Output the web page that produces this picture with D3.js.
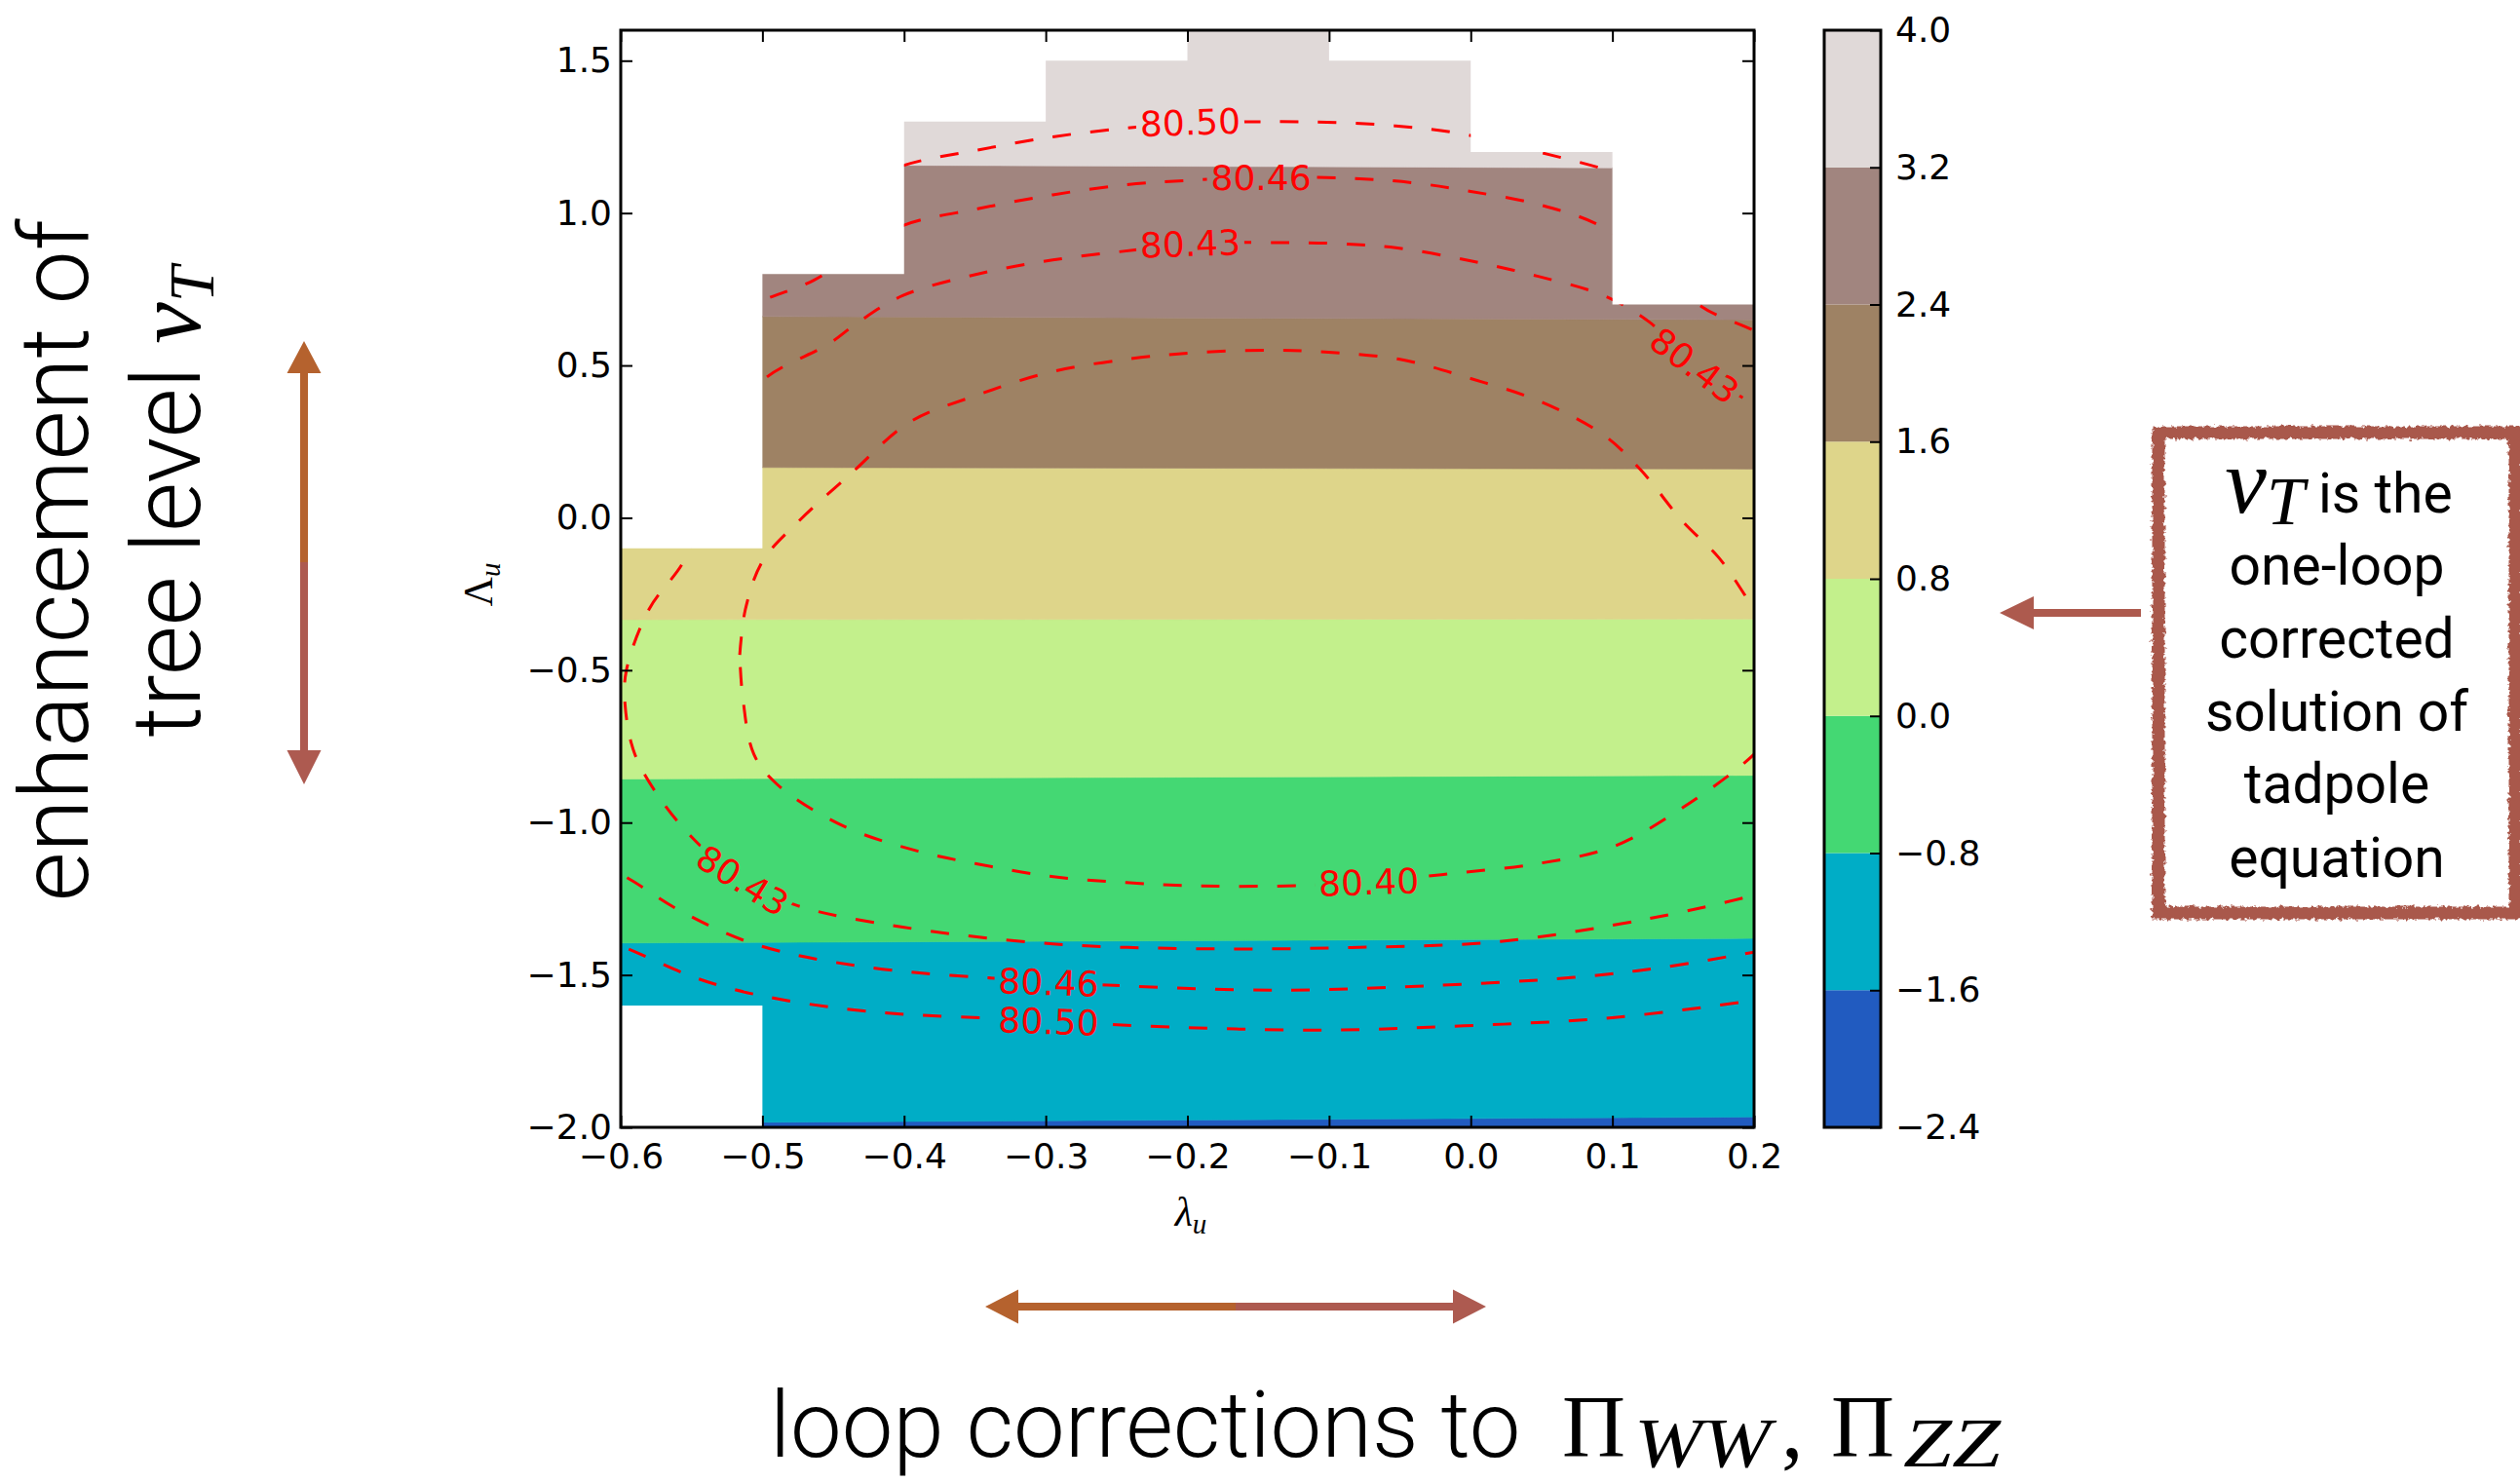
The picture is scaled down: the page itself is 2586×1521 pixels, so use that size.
<!DOCTYPE html>
<html>
<head>
<meta charset="utf-8">
<script src="https://cdn.jsdelivr.net/npm/d3@7"></script>
<style>
  body { margin: 0; background: #fff; }
  .note { font-family: Roboto, 'Liberation Sans', sans-serif; font-weight: 300; }
  .boxnote { font-family: Roboto, 'Liberation Sans', sans-serif; font-weight: 400; }
  .math { font-family: 'Liberation Serif', 'DejaVu Serif', serif; font-weight: 400; }
</style>
</head>
<body>
<svg id="chart" width="2586" height="1521"></svg>
<script>
'use strict';

// filled levels of the colour bar and their colours (bottom to top)
const levels = [-2.4, -1.6, -0.8, 0.0, 0.8, 1.6, 2.4, 3.2, 4.0];
const levelColors = ['#215bc0', '#00adc6', '#44d873', '#c3f08c', '#ded58a', '#9e8264', '#a1857f', '#e0d9d8'];

// Λ_u where each inner level (-1.6 ... 3.2) crosses λ_u = -0.6 and λ_u = 0.2
const boundaryAtLeft = [-1.986, -1.395, -0.857, -0.334, 0.166, 0.662, 1.160];
const boundaryAtRight = [-1.966, -1.380, -0.845, -0.332, 0.160, 0.650, 1.147];

// scanned grid: for every λ_u column, the Λ_u range that has a solution
const columnEdges = [-0.6, -0.5, -0.4, -0.3, -0.2, -0.1, 0.0, 0.1, 0.2];
const columnBottom = [-1.6, -2.0, -2.0, -2.0, -2.0, -2.0, -2.0, -2.0];
const columnTop = [-0.1, 0.8, 1.3, 1.5, 1.6, 1.5, 1.2, 0.7];

const xTicks = [-0.6, -0.5, -0.4, -0.3, -0.2, -0.1, 0.0, 0.1, 0.2];
const yTicks = [-2.0, -1.5, -1.0, -0.5, 0.0, 0.5, 1.0, 1.5];

const contour8040 = [[-0.516, -0.45], [-0.512, -0.30], [-0.500, -0.143], [-0.475, -0.014], [-0.438, 0.143],
  [-0.396, 0.314], [-0.350, 0.400], [-0.296, 0.479], [-0.240, 0.522], [-0.191, 0.543], [-0.138, 0.550],
  [-0.106, 0.545], [-0.050, 0.520], [0.000, 0.457], [0.050, 0.380], [0.094, 0.271], [0.120, 0.157],
  [0.150, -0.014], [0.175, -0.130], [0.194, -0.257], [0.213, -0.40], [0.220, -0.55], [0.213, -0.70],
  [0.200, -0.776], [0.150, -0.950], [0.100, -1.080], [0.047, -1.135], [-0.005, -1.163], [-0.040, -1.180],
  [-0.111, -1.205], [-0.190, -1.208], [-0.243, -1.197], [-0.296, -1.177], [-0.349, -1.135], [-0.390, -1.094],
  [-0.443, -1.011], [-0.490, -0.873], [-0.506, -0.776], [-0.514, -0.583], [-0.516, -0.45]];

const contour8043 = [[0.215, 0.33], [0.200, 0.371], [0.158, 0.500], [0.126, 0.643], [0.094, 0.729],
  [0.047, 0.793], [0.000, 0.843], [-0.053, 0.886], [-0.095, 0.900], [-0.137, 0.903], [-0.198, 0.900],
  [-0.237, 0.879], [-0.295, 0.846], [-0.348, 0.800], [-0.401, 0.729], [-0.432, 0.643], [-0.453, 0.571],
  [-0.500, 0.450], [-0.525, 0.28], [-0.542, 0.08], [-0.554, -0.129], [-0.580, -0.300], [-0.596, -0.500],
  [-0.597, -0.610], [-0.590, -0.776], [-0.569, -0.942], [-0.543, -1.080], [-0.514, -1.190], [-0.475, -1.273],
  [-0.401, -1.343], [-0.295, -1.398], [-0.190, -1.414], [-0.084, -1.410], [0.021, -1.390], [0.126, -1.315],
  [0.200, -1.239], [0.215, -1.22]];

const contour8046Upper = [[-0.62, 0.50], [-0.55, 0.62], [-0.500, 0.714], [-0.464, 0.779], [-0.430, 0.88],
  [-0.400, 0.960], [-0.348, 1.014], [-0.295, 1.060], [-0.243, 1.093], [-0.200, 1.107], [-0.148, 1.118],
  [-0.085, 1.114], [-0.042, 1.100], [0.000, 1.071], [0.047, 1.029], [0.089, 0.964], [0.130, 0.84],
  [0.163, 0.693], [0.200, 0.614], [0.22, 0.56]];

const contour8046Lower = [[-0.62, -1.13], [-0.597, -1.177], [-0.559, -1.287], [-0.506, -1.398], [-0.427, -1.474],
  [-0.298, -1.522], [-0.243, -1.536], [-0.137, -1.550], [-0.032, -1.536], [0.073, -1.508], [0.137, -1.474],
  [0.200, -1.425], [0.22, -1.41]];

const contour8050Upper = [[-0.45, 1.06], [-0.400, 1.157], [-0.348, 1.207], [-0.295, 1.250], [-0.243, 1.279],
  [-0.198, 1.295], [-0.137, 1.300], [-0.095, 1.297], [-0.053, 1.286], [-0.011, 1.264], [0.042, 1.207],
  [0.100, 1.136], [0.15, 1.05]];

const contour8050Lower = [[-0.62, -1.38], [-0.600, -1.405], [-0.548, -1.508], [-0.506, -1.563], [-0.427, -1.619],
  [-0.298, -1.650], [-0.243, -1.665], [-0.111, -1.681], [-0.005, -1.667], [0.100, -1.640], [0.200, -1.584],
  [0.22, -1.57]];

const contourLines = [contour8040, contour8043, contour8046Upper, contour8046Lower, contour8050Upper, contour8050Lower];

const labelTexts = ['80.50', '80.46', '80.43', '80.43', '80.43', '80.40', '80.46', '80.50'];
const labelX = [-0.198, -0.148, -0.198, 0.158, -0.514, -0.072, -0.298, -0.298];
const labelY = [1.298, 1.118, 0.900, 0.500, -1.190, -1.195, -1.524, -1.652];
const labelAngle = [-2, 0, -2, 37, 32, -2, 2, 2];

const svg = d3.select('#chart');

const x = d3.scaleLinear().domain([-0.6, 0.2]).range([637, 1800]);
const y = d3.scaleLinear().domain([-2.0, 1.6]).range([1157, 31]);
const cbarY = d3.scaleLinear().domain([-2.4, 4.0]).range([1157, 31]);
const cbarLeft = 1872;
const cbarRight = 1930;
const tickFont = 'DejaVu Sans';
const tickFontSize = 36;

const toPath = d3.line().x(d => x(d[0])).y(d => y(d[1]));
const toCurve = d3.line().x(d => x(d[0])).y(d => y(d[1])).curve(d3.curveCatmullRom.alpha(0.5));

const defs = svg.append('defs');

// stepped outline of the scanned region
const maskOutline = [];
columnBottom.forEach((b, i) => {
  maskOutline.push([columnEdges[i], b], [columnEdges[i + 1], b]);
});
for (let i = columnTop.length - 1; i >= 0; i--) {
  maskOutline.push([columnEdges[i + 1], columnTop[i]], [columnEdges[i], columnTop[i]]);
}
defs.append('clipPath').attr('id', 'dataClip')
  .append('path').attr('d', toPath(maskOutline) + 'Z');

defs.append('clipPath').attr('id', 'plotClip')
  .append('rect')
  .attr('x', x(-0.6)).attr('y', y(1.6))
  .attr('width', x(0.2) - x(-0.6)).attr('height', y(-2.0) - y(1.6));

const rough = defs.append('filter').attr('id', 'rough')
  .attr('x', '-5%').attr('y', '-5%').attr('width', '110%').attr('height', '110%');
rough.append('feTurbulence').attr('type', 'fractalNoise').attr('baseFrequency', '0.25 0.25')
  .attr('numOctaves', 2).attr('seed', 7).attr('result', 'noise');
rough.append('feDisplacementMap').attr('in', 'SourceGraphic').attr('in2', 'noise')
  .attr('scale', 7).attr('xChannelSelector', 'R').attr('yChannelSelector', 'G');

// ---- filled bands ----
const bands = levelColors.map((color, i) => {
  const lowL = i === 0 ? -2.2 : boundaryAtLeft[i - 1];
  const lowR = i === 0 ? -2.2 : boundaryAtRight[i - 1];
  const upL = i === levelColors.length - 1 ? 1.8 : boundaryAtLeft[i];
  const upR = i === levelColors.length - 1 ? 1.8 : boundaryAtRight[i];
  return {color, points: [[-0.6, lowL], [0.2, lowR], [0.2, upR], [-0.6, upL]]};
});

svg.append('g')
  .attr('clip-path', 'url(#dataClip)')
  .selectAll('path')
  .data(bands)
  .join('path')
  .attr('d', d => toPath(d.points) + 'Z')
  .attr('fill', d => d.color)
  .attr('stroke', d => d.color)
  .attr('stroke-width', 0.6);

// ---- contour labels (measured first so the lines can be broken) ----
const labelLayer = svg.append('g').attr('clip-path', 'url(#plotClip)');
const labels = labelLayer.selectAll('text')
  .data(labelTexts)
  .join('text')
  .attr('transform', (d, i) => `translate(${x(labelX[i])},${y(labelY[i])}) rotate(${labelAngle[i]})`)
  .attr('text-anchor', 'middle')
  .attr('dy', '0.36em')
  .attr('font-family', tickFont)
  .attr('font-size', tickFontSize)
  .attr('fill', '#ff0000')
  .text(d => d);

const gapMask = defs.append('mask').attr('id', 'labelGaps').attr('maskUnits', 'userSpaceOnUse')
  .attr('x', 0).attr('y', 0).attr('width', 2586).attr('height', 1521);
gapMask.append('rect').attr('width', 2586).attr('height', 1521).attr('fill', '#fff');
labels.each(function(d, i) {
  const w = this.getComputedTextLength() + 8;
  gapMask.append('rect')
    .attr('transform', `translate(${x(labelX[i])},${y(labelY[i])}) rotate(${labelAngle[i]})`)
    .attr('x', -w / 2).attr('y', -16)
    .attr('width', w).attr('height', 32)
    .attr('fill', '#000');
});

svg.insert('g', () => labelLayer.node())
  .attr('clip-path', 'url(#dataClip)')
  .append('g')
  .attr('mask', 'url(#labelGaps)')
  .selectAll('path')
  .data(contourLines)
  .join('path')
  .attr('d', d => toCurve(d))
  .attr('fill', 'none')
  .attr('stroke', '#ff0000')
  .attr('stroke-width', 3)
  .attr('stroke-dasharray', '19 20');

// ---- axes ----
const styleAxis = (g) => {
  g.select('.domain').remove();
  g.attr('font-family', tickFont).attr('font-size', tickFontSize);
  g.selectAll('.tick line').attr('stroke', '#000').attr('stroke-width', 2);
  g.selectAll('.tick text').attr('fill', '#000');
};

svg.append('g')
  .attr('transform', `translate(0,${y(-2.0)})`)
  .call(d3.axisBottom(x).tickValues(xTicks).tickFormat(d3.format('.1f')).tickSizeInner(-12).tickSizeOuter(0).tickPadding(16))
  .call(styleAxis);

svg.append('g')
  .attr('transform', `translate(0,${y(1.6)})`)
  .call(d3.axisTop(x).tickValues(xTicks).tickFormat('').tickSizeInner(-12).tickSizeOuter(0))
  .call(styleAxis);

svg.append('g')
  .attr('transform', `translate(${x(-0.6)},0)`)
  .call(d3.axisLeft(y).tickValues(yTicks).tickFormat(d3.format('.1f')).tickSizeInner(-12).tickSizeOuter(0).tickPadding(9))
  .call(styleAxis);

svg.append('g')
  .attr('transform', `translate(${x(0.2)},0)`)
  .call(d3.axisRight(y).tickValues(yTicks).tickFormat('').tickSizeInner(-12).tickSizeOuter(0))
  .call(styleAxis);

svg.append('rect')
  .attr('x', x(-0.6)).attr('y', y(1.6))
  .attr('width', x(0.2) - x(-0.6)).attr('height', y(-2.0) - y(1.6))
  .attr('fill', 'none').attr('stroke', '#000').attr('stroke-width', 3);

// axis titles
svg.append('text')
  .attr('class', 'math')
  .attr('x', 1222).attr('y', 1258)
  .attr('text-anchor', 'middle')
  .call(t => {
    t.append('tspan').attr('font-size', 42).attr('font-style', 'italic').text('λ');
    t.append('tspan').attr('font-size', 29).attr('font-style', 'italic').attr('dy', 8).text('u');
  });

svg.append('text')
  .attr('class', 'math')
  .attr('transform', 'translate(505,600) rotate(-90)')
  .attr('text-anchor', 'middle')
  .call(t => {
    t.append('tspan').attr('font-size', 42).text('Λ');
    t.append('tspan').attr('font-size', 29).attr('font-style', 'italic').attr('dy', 8).text('u');
  });

// ---- colour bar ----
const cbar = svg.append('g');
cbar.selectAll('rect.band')
  .data(levelColors)
  .join('rect')
  .attr('class', 'band')
  .attr('x', cbarLeft)
  .attr('width', cbarRight - cbarLeft)
  .attr('y', (d, i) => cbarY(levels[i + 1]))
  .attr('height', (d, i) => cbarY(levels[i]) - cbarY(levels[i + 1]))
  .attr('fill', d => d);

cbar.append('g')
  .attr('transform', `translate(${cbarRight},0)`)
  .call(d3.axisRight(cbarY).tickValues(levels).tickFormat(d3.format('.1f')).tickSizeInner(-11).tickSizeOuter(0).tickPadding(15))
  .call(styleAxis);

cbar.append('rect')
  .attr('x', cbarLeft).attr('y', cbarY(4.0))
  .attr('width', cbarRight - cbarLeft).attr('height', cbarY(-2.4) - cbarY(4.0))
  .attr('fill', 'none').attr('stroke', '#000').attr('stroke-width', 3);

// ---- slide annotations ----
const orange = '#b5622e';
const rust = '#ad5a50';

// vertical double arrow
svg.append('path').attr('fill', orange)
  .attr('d', 'M312,350 L329.5,383 L316,383 L316,578 L308,578 L308,383 L294.5,383 Z');
svg.append('path').attr('fill', rust)
  .attr('d', 'M308,577 L316,577 L316,770 L329.5,770 L312,805 L294.5,770 L308,770 Z');

// horizontal double arrow
svg.append('path').attr('fill', orange)
  .attr('d', 'M1011,1341 L1045,1323.5 L1045,1337 L1269,1337 L1269,1345 L1045,1345 L1045,1358.5 Z');
svg.append('path').attr('fill', rust)
  .attr('d', 'M1268,1337 L1491,1337 L1491,1323.5 L1525,1341 L1491,1358.5 L1491,1345 L1268,1345 Z');

// arrow pointing at the colour bar
svg.append('path').attr('fill', '#ad5a4e')
  .attr('d', 'M2052,629 L2087,612 L2087,625 L2197,625 L2197,633 L2087,633 L2087,646 Z');

// left annotation
svg.append('text')
  .attr('class', 'note')
  .attr('transform', 'translate(90,575) rotate(-90)')
  .attr('text-anchor', 'middle')
  .attr('font-size', 98)
  .text('enhancement of');

svg.append('text')
  .attr('class', 'note')
  .attr('transform', 'translate(205,515) rotate(-90)')
  .attr('text-anchor', 'middle')
  .attr('font-size', 98)
  .call(t => {
    t.append('tspan').text('tree level ');
    t.append('tspan').attr('class', 'math').attr('font-style', 'italic')
      .attr('font-size', 96).text('v');
    t.append('tspan').attr('class', 'math').attr('font-style', 'italic')
      .attr('font-size', 66).attr('dy', 14).text('T');
  });

// bottom annotation
svg.append('text')
  .attr('class', 'note')
  .attr('x', 790).attr('y', 1495)
  .attr('font-size', 94)
  .text('loop corrections to');

svg.append('text')
  .attr('class', 'math')
  .attr('y', 1495)
  .call(t => {
    t.append('tspan').attr('x', 1603).attr('font-size', 90).text('Π');
    t.append('tspan').attr('x', 1677).attr('font-style', 'italic').attr('font-size', 72)
      .attr('dy', 10).attr('textLength', 140).attr('lengthAdjust', 'spacingAndGlyphs').text('WW');
    t.append('tspan').attr('x', 1828).attr('font-size', 90).attr('dy', -10).text(',');
    t.append('tspan').attr('x', 1879).attr('font-size', 90).text('Π');
    t.append('tspan').attr('x', 1953).attr('font-style', 'italic').attr('font-size', 72)
      .attr('dy', 10).attr('textLength', 100).attr('lengthAdjust', 'spacingAndGlyphs').text('ZZ');
  });

// boxed note
svg.append('rect')
  .attr('x', 2215).attr('y', 444)
  .attr('width', 366).attr('height', 493)
  .attr('fill', 'none')
  .attr('stroke', '#a9594c')
  .attr('stroke-width', 13)
  .attr('filter', 'url(#rough)');

const boxLines = ['one-loop', 'corrected', 'solution of', 'tadpole', 'equation'];
const boxBaselines = [600, 675, 750, 824, 900];

svg.append('text')
  .attr('class', 'boxnote')
  .attr('x', 2400).attr('y', 526)
  .attr('text-anchor', 'middle')
  .attr('font-size', 57)
  .call(t => {
    t.append('tspan').attr('class', 'math').attr('font-style', 'italic').attr('font-size', 96).text('v');
    t.append('tspan').attr('class', 'math').attr('font-style', 'italic').attr('font-size', 70)
      .attr('dy', 12).text('T');
    t.append('tspan').attr('dy', -12).text('  is the');
  });

svg.append('g')
  .selectAll('text')
  .data(boxLines)
  .join('text')
  .attr('class', 'boxnote')
  .attr('x', 2398)
  .attr('y', (d, i) => boxBaselines[i])
  .attr('text-anchor', 'middle')
  .attr('font-size', 57)
  .text(d => d);
</script>
</body>
</html>
